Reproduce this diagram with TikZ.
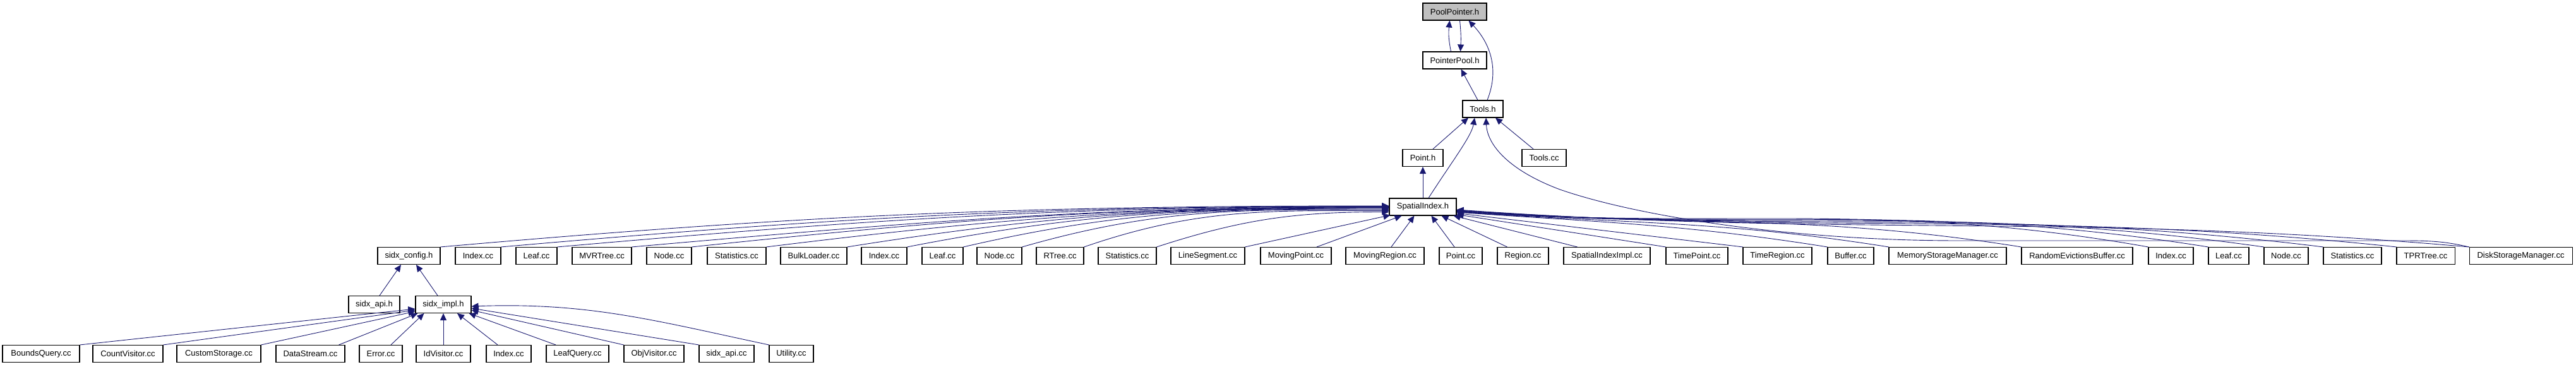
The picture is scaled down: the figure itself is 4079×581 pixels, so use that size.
\documentclass[tikz,border=0pt]{standalone}
\usepackage{fontspec}
\setmainfont{Liberation Sans}
\usetikzlibrary{arrows.meta,calc}
\definecolor{edgeblue}{HTML}{191970}
\definecolor{rootgray}{HTML}{BFBFBF}
\newcommand\fb[6][]{\node[fbox,#1,minimum width={(#4-#3)*0.5pt}] (#2) at ({(#3+#4)/2},#5) {#6};}
\begin{document}
\begin{tikzpicture}[x=0.5pt,y=-0.5pt,
  fbox/.style={draw=black,line width=0.55pt,fill=white,inner sep=0pt,minimum height=13.5pt,
    font=\fontsize{6.5pt}{7.5pt}\selectfont},
  dep/.style={draw=edgeblue,line width=0.45pt,-{Triangle[length=5.5pt,width=5pt]}}]
\path[use as bounding box] (0,0) rectangle (4079,581);
% rows
\fb[fill=rootgray]{pp}{2253}{2354}{18.5}{PoolPointer.h}
\fb{ptp}{2253}{2354}{95.5}{PointerPool.h}
\fb{th}{2316}{2380}{172.5}{Tools.h}
\fb{ph}{2221}{2285}{250}{Point.h}
\fb{tcc}{2410}{2480}{250}{Tools.cc}
\fb{si}{2200}{2306}{327.5}{SpatialIndex.h}
% row 5
\fb{cfg}{598}{697}{405}{sidx\_config.h}
\fb{a1}{721}{793}{405}{Index.cc}
\fb{a2}{817}{882}{405}{Leaf.cc}
\fb{a3}{906}{1000}{405}{MVRTree.cc}
\fb{a4}{1024}{1095}{405}{Node.cc}
\fb{a5}{1120}{1213}{405}{Statistics.cc}
\fb{b1}{1236}{1341}{405}{BulkLoader.cc}
\fb{b2}{1364}{1436}{405}{Index.cc}
\fb{b3}{1460}{1525}{405}{Leaf.cc}
\fb{b4}{1547}{1618}{405}{Node.cc}
\fb{b5}{1641}{1716}{405}{RTree.cc}
\fb{b6}{1739}{1831}{405}{Statistics.cc}
\fb{c1}{1854}{1971}{405}{LineSegment.cc}
\fb{c2}{1996}{2108}{405}{MovingPoint.cc}
\fb{c3}{2131}{2255}{405}{MovingRegion.cc}
\fb{c4}{2279}{2347}{405}{Point.cc}
\fb{c5}{2371}{2452}{405}{Region.cc}
\fb{c6}{2476}{2613}{405}{SpatialIndexImpl.cc}
\fb{c7}{2638}{2736}{405}{TimePoint.cc}
\fb{c8}{2760}{2869}{405}{TimeRegion.cc}
\fb{d1}{2894}{2967}{405}{Buffer.cc}
\fb{d2}{2991}{3177}{405}{MemoryStorageManager.cc}
\fb{d3}{3201}{3377}{405}{RandomEvictionsBuffer.cc}
\fb{e1}{3402}{3473}{405}{Index.cc}
\fb{e2}{3497}{3561}{405}{Leaf.cc}
\fb{e3}{3585}{3655}{405}{Node.cc}
\fb{e4}{3679}{3771}{405}{Statistics.cc}
\fb{e5}{3795}{3887}{405}{TPRTree.cc}
\fb{d4}{3910}{4073}{405}{DiskStorageManager.cc}
% row 6
\fb{sapi}{552}{633}{482}{sidx\_api.h}
\fb{simpl}{658}{746}{482}{sidx\_impl.h}
% row 7
\fb{g1}{4}{126}{560}{BoundsQuery.cc}
\fb{g2}{147}{258}{560}{CountVisitor.cc}
\fb{g3}{280}{413}{560}{CustomStorage.cc}
\fb{g4}{437}{546}{560}{DataStream.cc}
\fb{g5}{569}{637}{560}{Error.cc}
\fb{g6}{659}{745}{560}{IdVisitor.cc}
\fb{g7}{770}{841}{560}{Index.cc}
\fb{g8}{865}{964}{560}{LeafQuery.cc}
\fb{g9}{988}{1083}{560}{ObjVisitor.cc}
\fb{g10}{1107}{1194}{560}{sidx\_api.cc}
\fb{g11}{1218}{1288}{560}{Utility.cc}
% top edges
\draw[dep] ($(ptp.north)+(-6,0)$) .. controls ($(ptp.north)+(-10,-20)$) and ($(pp.south)+(-10,20)$) .. ($(pp.south)+(-8,0)$);
\draw[dep] ($(pp.south)+(8,0)$) .. controls ($(pp.south)+(10,20)$) and ($(ptp.north)+(10,-20)$) .. ($(ptp.north)+(9,0)$);
\draw[dep] ($(th.north)+(7,0)$) .. controls ($(th.north)+(27,-50)$) and ($(pp.south)+(55,35)$) .. ($(pp.south)+(22,0)$);
\draw[dep] ($(th.north)+(-8,0)$) -- ($(ptp.south)+(10,0)$);
\draw[dep] ($(ph.north)+(16,0)$) -- ($(th.south)+(-23,0)$);
\draw[dep] ($(si.north)+(9,0)$) .. controls ($(si.north)+(47,-59)$) and ($(th.south)+(-18,29)$) .. ($(th.south)+(-13,0)$);
\draw[dep] ($(tcc.north)+(-17,0)$) -- ($(th.south)+(20,0)$);
\draw[dep] (si.north) -- (ph.south);
\draw[dep] (d4.north west) .. controls (3870,382) and (3850,381) .. (3800,381) -- (3100,381)
  .. controls (2850,381) and (2600,345) .. (2470,300)
  .. controls (2390,270) and (2355,230) .. ($(th.south)+(5,0)$);
% left fan-in to SpatialIndex.h (angles are page angles)
\foreach \n/\dy/\a in {cfg/-1.5/5, a1/-1/5, a2/-0.5/5, a3/0/5, a4/0.5/6, a5/1/7,
  b1/1.5/9, b2/2.5/11, b3/3.5/13, b4/4.5/16, b5/6/19, b6/8/18}
  \draw[dep] (\n.north east) to[out=\a,in=180] ($(si.west)+(0,\dy)$);
\draw[dep] (c1.north east) -- ($(si.south west)+(2,-1)$);
\draw[dep] ($(c2.north)+(33,0)$) -- ($(si.south west)+(20,0)$);
\draw[dep] ($(c3.north)+(10,0)$) -- ($(si.south west)+(40,0)$);
\draw[dep] ($(c4.north)+(-10,0)$) -- ($(si.south west)+(67,0)$);
\draw[dep] ($(c5.north)+(-25,0)$) -- ($(si.south west)+(83,0)$);
\draw[dep] ($(c6.north)+(-47,0)$) -- ($(si.south east)+(-5,0)$);
\draw[dep] (c7.north west) -- ($(si.east)+(0,12)$);
\draw[dep] (c8.north west) -- ($(si.east)+(0,10)$);
% right fan-in
\foreach \n/\dy/\a in {d1/8.5/171, d2/8/171, d3/7.5/171, e1/7/170, e2/6.5/171, e3/6/172,
  e4/5.5/173, e5/5/174, d4/4.5/175}
  \draw[dep] (\n.north west) to[out=\a,in=-4] ($(si.east)+(0,\dy)$);
% sidx
\draw[dep] ($(sapi.north)+(8.5,0)$) -- ($(cfg.south)+(-12.5,0)$);
\draw[dep] ($(simpl.north)+(-9,0)$) -- ($(cfg.south)+(11.5,0)$);
% row 7 to sidx_impl.h
\draw[dep] (g1.north east) -- ($(simpl.west)+(0,7)$);
\draw[dep] (g2.north east) -- ($(simpl.west)+(0,9)$);
\draw[dep] (g3.north east) -- ($(simpl.west)+(0,11)$);
\draw[dep] ($(g4.north east)+(-10,0)$) -- ($(simpl.south west)+(4,0)$);
\draw[dep] ($(g5.north)+(16,0)$) -- ($(simpl.south west)+(14,0)$);
\draw[dep] (g6.north) -- (simpl.south);
\draw[dep] ($(g7.north)+(-17.5,0)$) -- ($(simpl.south)+(22,0)$);
\draw[dep] ($(g8.north)+(-34.5,0)$) -- ($(simpl.south east)+(-4,0)$);
\draw[dep] (g9.north west) -- ($(simpl.east)+(0,9)$);
\draw[dep] (g10.north west) -- ($(simpl.east)+(0,6)$);
\draw[dep] (g11.north west) to[out=168,in=2] ($(simpl.east)+(0,3)$);
\end{tikzpicture}
\end{document}
